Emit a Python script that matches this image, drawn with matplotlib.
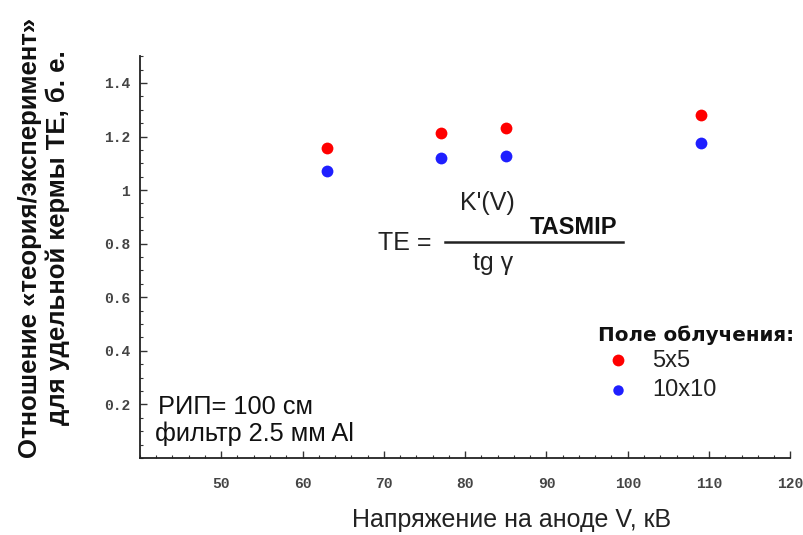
import matplotlib
matplotlib.use("Agg")
import matplotlib.pyplot as plt
from matplotlib.ticker import MultipleLocator

# anode voltage, kV
voltage = [63, 77, 85, 109]
# theory/experiment ratio for field 5x5 and 10x10
te_5x5 = [1.157, 1.213, 1.232, 1.280]
te_10x10 = [1.071, 1.120, 1.127, 1.176]
x_ticks = [50, 60, 70, 80, 90, 100, 110, 120]
y_ticks = [0.2, 0.4, 0.6, 0.8, 1.0, 1.2, 1.4]
y_tick_labels = ["0.2", "0.4", "0.6", "0.8", "1", "1.2", "1.4"]

fig = plt.figure(figsize=(8.04, 5.35), dpi=100)
ax = fig.add_axes([0.174, 0.144, 0.809, 0.751])

ax.plot(voltage, te_5x5, "o", color="#ff0000", markersize=8.5, markeredgewidth=0)
ax.plot(voltage, te_10x10, "o", color="#1f1fff", markersize=8.5, markeredgewidth=0)

ax.set_xlim(40, 120)
ax.set_ylim(0, 1.5)
ax.set_xticks(x_ticks)
ax.set_yticks(y_ticks)
ax.set_yticklabels(y_tick_labels)
ax.xaxis.set_minor_locator(MultipleLocator(2))
ax.yaxis.set_minor_locator(MultipleLocator(0.05))

for side in ["top", "right"]:
    ax.spines[side].set_visible(False)
for side in ["left", "bottom"]:
    ax.spines[side].set_linewidth(1.3)
    ax.spines[side].set_color("#222222")

ax.tick_params(which="major", direction="in", length=5, width=1, color="#333333",
               labelsize=10.5, labelcolor="#444444")
ax.tick_params(axis="y", which="major", pad=7)
ax.tick_params(axis="x", which="major", pad=14)
ax.tick_params(which="minor", direction="in", length=2.5, width=0.8, color="#333333")
for lab in ax.get_xticklabels() + ax.get_yticklabels():
    lab.set_family("Liberation Mono")
    lab.set_fontweight("bold")

fig.text(0.636, 0.028, "Напряжение на аноде V, кВ", fontsize=18, color="#222222",
         family="Liberation Sans", ha="center", va="center")

fig.text(0.055, 0.555, "Отношение «теория/эксперимент»\nдля удельной кермы ТЕ, б. е.",
         rotation=90, ha="center", va="center", fontsize=18.5, fontweight="bold",
         family="Liberation Sans", color="#111111", linespacing=1.2)

# formula inside the plot
ft = dict(family="Liberation Sans", color="#222222", transform=fig.transFigure)
fig.text(0.470, 0.545, "TE =", fontsize=18, va="center", **ft)
fig.add_artist(plt.Line2D([0.553, 0.775], [0.548, 0.548], color="#222222", lw=1.8,
                          transform=fig.transFigure))
fig.text(0.572, 0.620, "K'(V)", fontsize=18, va="center", **ft)
fig.text(0.659, 0.574, "TASMIP", fontsize=17, fontweight="bold", va="center",
         family="Liberation Sans", color="#111111")
fig.text(0.588, 0.508, "tg γ", fontsize=18, va="center", **ft)

# legend
fig.text(0.744, 0.374, "Поле облучения:", fontsize=14.3, fontweight="bold", va="center",
         family="DejaVu Sans", color="#111111")
ax.plot([98.8], [0.364], "o", color="#ff0000", markersize=8.5, markeredgewidth=0)
ax.plot([98.8], [0.252], "o", color="#1f1fff", markersize=7.5, markeredgewidth=0)
fig.text(0.811, 0.325, "5x5", fontsize=17, va="center", **ft)
fig.text(0.811, 0.271, "10x10", fontsize=17, va="center", **ft)

# measurement conditions
ct = dict(family="Liberation Sans", color="#111111", transform=fig.transFigure)
fig.text(0.196, 0.239, "РИП= 100 см", fontsize=18.3, va="center", **ct)
fig.text(0.193, 0.19, "фильтр 2.5 мм Al", fontsize=18.3, va="center", **ct)

fig.savefig("out.png", dpi=100, facecolor="white")
